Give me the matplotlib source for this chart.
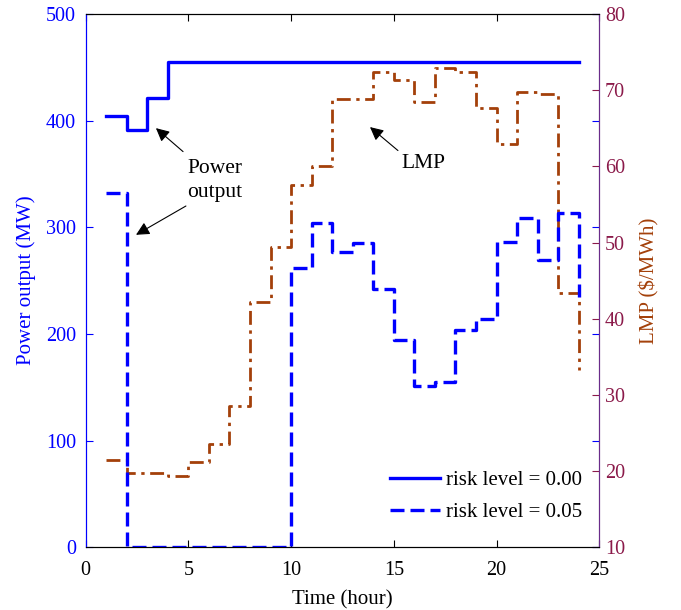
import numpy as np
import matplotlib
matplotlib.use("Agg")
import matplotlib.pyplot as plt

# --- DATA ---
hours = np.arange(1, 25)
power_r000 = [404, 391, 421, 455, 455, 455, 455, 455, 455, 455, 455, 455,
              455, 455, 455, 455, 455, 455, 455, 455, 455, 455, 455, 455]
power_r005 = [332, 0, 0, 0, 0, 0, 0, 0, 0, 262, 304, 277,
              285, 242, 194, 151, 155, 204, 214, 286, 309, 269, 313, 235]
lmp = [21.5, 19.7, 19.7, 19.4, 21.2, 23.6, 28.6, 42.2, 49.4, 57.5, 60.0, 68.9,
       68.9, 72.4, 71.3, 68.5, 72.9, 72.4, 67.7, 62.9, 69.8, 69.5, 43.4, 33.3]

BLUE = '#0000FF'
BROWN = '#A3400A'
MAROON = '#8B1A4A'

plt.rcParams['font.family'] = ['Liberation Serif', 'DejaVu Serif']
plt.rcParams['font.size'] = 14.5

fig = plt.figure(figsize=(6.81, 6.10), dpi=100)
ax = fig.add_axes([0.1258, 0.1028, 0.7542, 0.8742])
ax2 = ax.twinx()

ax2.step(hours, lmp, where='post', color=BROWN, lw=2.0,
         dashes=(5, 2, 1.2, 2))
l1, = ax.step(hours, power_r000, where='post', color=BLUE, lw=2.4,
              label='risk level = 0.00')
l2, = ax.step(hours, power_r005, where='post', color=BLUE, lw=2.4,
              dashes=(4.2, 1.8), label='risk level = 0.05')

ax.set_zorder(ax2.get_zorder() + 1)
ax.patch.set_visible(False)

ax.set_xlim(0, 25)
ax.set_ylim(0, 500)
ax2.set_ylim(10, 80)
ax.set_xticks(np.arange(0, 26, 5))
ax.set_yticks(np.arange(0, 501, 100))
ax2.set_yticks(np.arange(10, 81, 10))

ax.tick_params(axis='x', direction='in', top=True, length=5, colors='k', pad=10)
ax.tick_params(axis='y', direction='in', right=True, length=5,
               colors=BLUE, labelcolor=BLUE, pad=7)
ax2.tick_params(axis='y', direction='in', length=5, colors=MAROON,
                labelcolor=MAROON, pad=4)

for a in (ax, ax2):
    a.spines['top'].set_color('k')
    a.spines['bottom'].set_color('k')
    a.spines['left'].set_color(BLUE)
    a.spines['right'].set_color('#6A2C8A')

ax.set_xlabel('Time (hour)', fontsize=15)
ax.set_ylabel('Power output (MW)', color=BLUE, fontsize=15)
ax2.set_ylabel('LMP ($/MWh)', color=BROWN, fontsize=15)
ax.xaxis.set_label_coords(0.5, -0.080)
ax.yaxis.set_label_coords(-0.097, 0.5)
ax2.yaxis.set_label_coords(1.079, 0.5)

arrow = dict(arrowstyle='-|>', color='k', lw=0.8, mutation_scale=20,
             shrinkA=0, shrinkB=0)
ax.annotate('', xy=(3.42, 393), xytext=(4.74, 371), arrowprops=arrow)
ax.annotate('', xy=(2.45, 293), xytext=(4.88, 320), arrowprops=arrow)
ax.text(6.29, 344, 'Power\noutput', ha='center', va='center', fontsize=15.5,
        linespacing=1.35)
ax.annotate('', xy=(13.84, 394), xytext=(15.2, 372), arrowprops=arrow)
ax.text(16.42, 360, 'LMP', ha='center', va='center', fontsize=15.5)

ax.legend(handles=[l1, l2], loc='lower right', bbox_to_anchor=(1.015, 0.0),
          frameon=False, fontsize=15, handlelength=2.4, handletextpad=0.3,
          borderaxespad=0.8, labelspacing=0.6)

fig.savefig('out.png', dpi=100)
